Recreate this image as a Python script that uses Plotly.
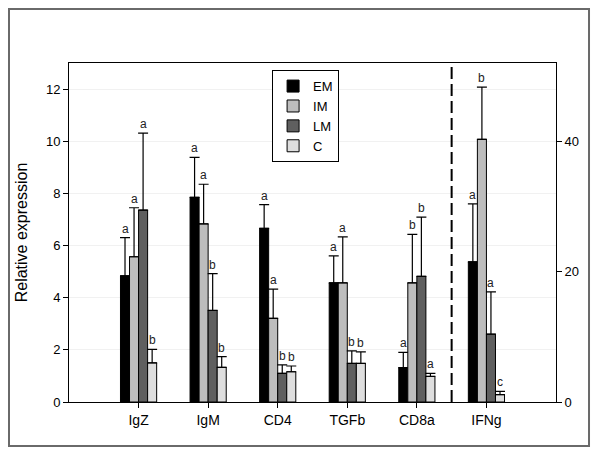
import plotly.graph_objects as go

categories = ["IgZ", "IgM", "CD4", "TGFb", "CD8a"]
right_category = "IFNg"
series = ["EM", "IM", "LM", "C"]

em = [4.84, 7.85, 6.66, 4.57, 1.32]
em_err = [1.46, 1.53, 0.91, 1.03, 0.58]
im = [5.57, 6.83, 3.21, 4.57, 4.57]
im_err = [1.88, 1.52, 1.12, 1.76, 1.86]
lm = [7.36, 3.51, 1.10, 1.48, 4.82]
lm_err = [2.95, 1.41, 0.32, 0.48, 2.27]
c = [1.50, 1.33, 1.16, 1.48, 0.98]
c_err = [0.52, 0.41, 0.22, 0.44, 0.12]

ifng = [21.5, 40.3, 10.4, 1.13]
ifng_err = [8.9, 8.0, 6.5, 0.5]

em_letters = ["a", "a", "a", "a", "a"]
im_letters = ["a", "a", "a", "a", "b"]
lm_letters = ["a", "b", "b", "b", "b"]
c_letters = ["b", "b", "b", "b", "a"]
ifng_letters = ["a", "b", "a", "c"]

colors = ["#000000", "#bdbdbd", "#5f5f5f", "#dedede"]
offsets = [-0.26, -0.13, 0.0, 0.13]
bw = 0.13

vals = [em, im, lm, c]
errs = [em_err, im_err, lm_err, c_err]
letters = [em_letters, im_letters, lm_letters, c_letters]

FONT = "Liberation Sans, Arial, sans-serif"
fig = go.Figure()
xs = list(range(len(categories)))
x_right = len(categories)

for k, name in enumerate(series):
    fig.add_trace(go.Bar(
        x=xs, y=vals[k], name=name, width=bw, offset=offsets[k],
        marker=dict(color=colors[k], line=dict(color="#000000", width=1)),
        error_y=dict(type="data", array=errs[k], arrayminus=[0] * len(xs), symmetric=False,
                     color="#000000", thickness=1.2, width=5),
        legendgroup=name, yaxis="y",
    ))
    fig.add_trace(go.Bar(
        x=[x_right], y=[ifng[k]], name=name, width=bw, offset=offsets[k],
        marker=dict(color=colors[k], line=dict(color="#000000", width=1)),
        error_y=dict(type="data", array=[ifng_err[k]], arrayminus=[0], symmetric=False,
                     color="#000000", thickness=1.2, width=5),
        legendgroup=name, showlegend=False, yaxis="y2",
    ))

annotations = []
for k in range(4):
    for i in xs:
        annotations.append(dict(
            x=i + offsets[k] + bw / 2, y=vals[k][i] + errs[k][i], xref="x", yref="y",
            text=letters[k][i], showarrow=False, yanchor="bottom", yshift=0,
            font=dict(family=FONT, size=12, color="#222222")))
    annotations.append(dict(
        x=x_right + offsets[k] + bw / 2, y=ifng[k] + ifng_err[k], xref="x", yref="y2",
        text=ifng_letters[k], showarrow=False, yanchor="bottom", yshift=0,
        font=dict(family=FONT, size=12, color="#222222")))

shapes = [
    dict(type="line", xref="x", yref="paper", x0=4.5, x1=4.5, y0=0, y1=1,
         line=dict(color="#000000", width=2, dash="12px,5px")),
    dict(type="rect", xref="paper", yref="paper", x0=-0.1232, x1=1.0678, y0=-0.1298, y1=1.1593,
         line=dict(color="#6a6a6a", width=2)),
]

fig.update_layout(
    width=584, height=439,
    margin=dict(l=61, r=36, t=55, b=45),
    paper_bgcolor="white", plot_bgcolor="white",
    barmode="overlay",
    font=dict(family=FONT, color="#000000"),
    showlegend=True,
    legend=dict(x=0.417, y=0.979, xanchor="left", yanchor="top",
                bordercolor="#000000", borderwidth=1, bgcolor="white",
                font=dict(family=FONT, size=13), tracegroupgap=0, itemwidth=30),
    xaxis=dict(range=[-1, 6], tickvals=xs + [x_right], ticktext=categories + [right_category],
               showgrid=False, zeroline=False, showline=True, linecolor="#000000", linewidth=1,
               mirror=True, ticks="outside", ticklen=5, tickcolor="#000000",
               tickfont=dict(family=FONT, size=14)),
    yaxis=dict(range=[0, 13], tickvals=[0, 2, 4, 6, 8, 10, 12], showgrid=True, gridcolor="#f1f1f1",
               zeroline=False, showline=True, linecolor="#000000", linewidth=1,
               ticks="outside", ticklen=5, tickcolor="#000000",
               tickfont=dict(family=FONT, size=13),
               title=dict(text="Relative expression", font=dict(family=FONT, size=16), standoff=14)),
    yaxis2=dict(range=[0, 52], tickvals=[0, 20, 40], overlaying="y", side="right",
                showgrid=False, zeroline=False, showline=True, linecolor="#000000", linewidth=1,
                ticks="outside", ticklen=5, tickcolor="#000000",
                tickfont=dict(family=FONT, size=13)),
    annotations=annotations,
    shapes=shapes,
)

fig.write_html("out.html")
